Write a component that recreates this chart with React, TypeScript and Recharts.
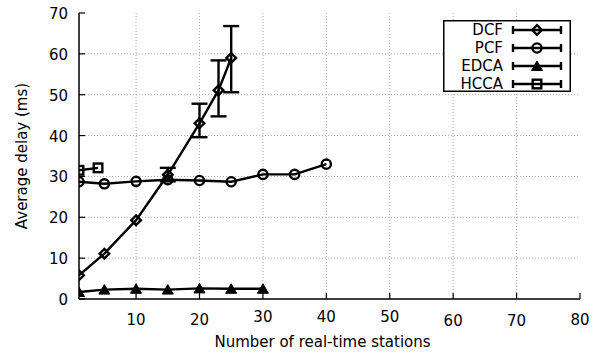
import React from 'react';
import {
  LineChart, Line, XAxis, YAxis, CartesianGrid, ErrorBar,
} from 'recharts';

// ---- data ----
const seriesNames = ['DCF', 'PCF', 'EDCA', 'HCCA'];

const dcfX = [1, 5, 10, 15, 20, 23, 25];
const dcfY = [5.8, 11.1, 19.3, 30.4, 43.0, 51.1, 59.0];
const dcfLow: (number | null)[] = [null, null, null, 28.8, 39.6, 44.7, 50.6];
const dcfHigh: (number | null)[] = [null, null, null, 32.1, 47.8, 58.4, 66.8];

const pcfX = [1, 5, 10, 15, 20, 25, 30, 35, 40];
const pcfY = [28.7, 28.2, 28.8, 29.2, 29.0, 28.7, 30.5, 30.5, 33.0];

const edcaX = [1, 5, 10, 15, 20, 25, 30];
const edcaY = [1.7, 2.3, 2.5, 2.3, 2.6, 2.5, 2.5];

const hccaX = [1, 4];
const hccaY = [31.5, 32.1];

const xTicks = [10, 20, 30, 40, 50, 60, 70, 80];
const yTicks = [0, 10, 20, 30, 40, 50, 60, 70];

const dcfData = dcfX.map((x, i) => ({
  x,
  y: dcfY[i],
  err:
    dcfLow[i] != null && dcfHigh[i] != null
      ? [dcfY[i] - (dcfLow[i] as number), (dcfHigh[i] as number) - dcfY[i]]
      : undefined,
}));
const pcfData = pcfX.map((x, i) => ({ x, y: pcfY[i] }));
const edcaData = edcaX.map((x, i) => ({ x, y: edcaY[i] }));
const hccaData = hccaX.map((x, i) => ({ x, y: hccaY[i] }));

const FONT = 'DejaVu Sans';
const FS = 15;
const SW = 2.4;

type Shape = 'diamond' | 'circle' | 'triangle' | 'square';

function Marker({ shape, cx, cy }: { shape: Shape; cx: number; cy: number }) {
  if (shape === 'diamond') {
    const s = 4.8;
    return (
      <path
        d={`M${cx},${cy - s}L${cx + s},${cy}L${cx},${cy + s}L${cx - s},${cy}Z`}
        fill="none" stroke="#000" strokeWidth={SW}
      />
    );
  }
  if (shape === 'circle') {
    return <circle cx={cx} cy={cy} r={4.6} fill="none" stroke="#000" strokeWidth={SW} />;
  }
  if (shape === 'triangle') {
    const w = 5.5;
    return (
      <path
        d={`M${cx},${cy - 5}L${cx + w},${cy + 4.5}L${cx - w},${cy + 4.5}Z`}
        fill="#000" stroke="#000" strokeWidth={1}
      />
    );
  }
  const h = 4.3;
  return (
    <rect x={cx - h} y={cy - h} width={2 * h} height={2 * h} fill="none" stroke="#000" strokeWidth={SW} />
  );
}

const makeDot = (shape: Shape) => (props: any) => (
  <Marker key={`${shape}-${props.index}`} shape={shape} cx={props.cx} cy={props.cy} />
);

const xLabelDy: Record<number, number> = { 10: 21, 20: 21, 30: 18, 40: 18, 50: 18, 60: 22, 70: 22, 80: 21 };

const BottomTick = (props: any) => {
  const { x, y, payload } = props;
  return (
    <g>
      <line x1={x} x2={x} y1={y} y2={y - 6} stroke="#000" strokeWidth={1.2} />
      <text
        x={x} y={y + (xLabelDy[payload.value] ?? 21)} textAnchor="middle"
        dominantBaseline="central" fontFamily={FONT} fontSize={FS} fill="#000"
      >
        {payload.value}
      </text>
    </g>
  );
};

const TopTick = (props: any) => {
  const { x, y } = props;
  return <line x1={x} x2={x} y1={y} y2={y + 6} stroke="#000" strokeWidth={1.2} />;
};

const LeftTick = (props: any) => {
  const { x, y, payload } = props;
  return (
    <g>
      <line x1={x} x2={x + 6} y1={y} y2={y} stroke="#000" strokeWidth={1.2} />
      <text
        x={x - 11} y={y + 1} textAnchor="end" dominantBaseline="central"
        fontFamily={FONT} fontSize={FS} fill="#000"
      >
        {payload.value}
      </text>
    </g>
  );
};

const RightTick = (props: any) => {
  const { x, y } = props;
  return <line x1={x} x2={x - 6} y1={y} y2={y} stroke="#000" strokeWidth={1.2} />;
};

const legendShapes: Record<string, Shape> = {
  DCF: 'diamond', PCF: 'circle', EDCA: 'triangle', HCCA: 'square',
};

const LegendBox = () => {
  const W = 128;
  const H = 72;
  return (
    <svg width={W} height={H} style={{ display: 'block' }}>
      <rect x={0.75} y={0.75} width={W - 1.5} height={H - 1.5} fill="#fff" stroke="#000" strokeWidth={1.5} />
      {seriesNames.map((name, i) => {
        const cy = 10 + i * 18;
        const shape = legendShapes[name];
        return (
          <g key={name}>
            <text
              x={60} y={cy} textAnchor="end" dominantBaseline="central"
              fontFamily={FONT} fontSize={FS} fill="#000"
            >
              {name}
            </text>
            <line x1={70} x2={118} y1={cy} y2={cy} stroke="#000" strokeWidth={SW} />
            <line x1={70} x2={70} y1={cy - 4} y2={cy + 4} stroke="#000" strokeWidth={SW} />
            <line x1={118} x2={118} y1={cy - 4} y2={cy + 4} stroke="#000" strokeWidth={SW} />
            <Marker shape={shape} cx={94} cy={cy} />
          </g>
        );
      })}
    </svg>
  );
};

export default function App() {
  return (
    <div style={{ position: 'absolute', left: 0, top: 0, width: 604, height: 356, background: '#fff' }}>
      <LineChart
        width={604}
        height={356}
        margin={{ top: 13, right: 24, bottom: 0, left: 0 }}
      >
        <CartesianGrid
          stroke="#a8a8a8" strokeDasharray="1 2" strokeWidth={1}
          verticalValues={[10, 20, 30, 40, 50, 60, 70]}
          horizontalValues={[10, 20, 30, 40, 50, 60]}
        />
        <XAxis
          dataKey="x" type="number" domain={[1, 80]} ticks={xTicks}
          allowDataOverflow height={57}
          axisLine={{ stroke: '#000', strokeWidth: 1.5 }}
          tickLine={false} tickSize={0} tickMargin={0}
          tick={<BottomTick />}
          label={{
            content: (p: any) => {
              const vb = p.viewBox;
              return (
                <text
                  x={vb.x + vb.width / 2 - 7} y={vb.y + 43} textAnchor="middle"
                  dominantBaseline="central" fontFamily={FONT} fontSize={FS} fill="#000"
                >
                  Number of real-time stations
                </text>
              );
            },
          }}
        />
        <XAxis
          xAxisId="top" orientation="top" dataKey="x" type="number" domain={[1, 80]}
          ticks={xTicks} allowDataOverflow height={0}
          axisLine={{ stroke: '#000', strokeWidth: 1.5 }}
          tickLine={false} tickSize={0} tickMargin={0}
          tick={<TopTick />}
        />
        <YAxis
          type="number" domain={[0, 70]} ticks={yTicks} width={79}
          axisLine={{ stroke: '#000', strokeWidth: 1.5 }}
          tickLine={false} tickSize={0} tickMargin={0}
          tick={<LeftTick />}
          label={{
            content: (p: any) => {
              const vb = p.viewBox;
              const cx = 22;
              const cy = vb.y + vb.height / 2;
              return (
                <text
                  x={cx} y={cy} transform={`rotate(-90, ${cx}, ${cy})`} textAnchor="middle"
                  dominantBaseline="central" fontFamily={FONT} fontSize={FS} fill="#000"
                >
                  Average delay (ms)
                </text>
              );
            },
          }}
        />
        <YAxis
          yAxisId="right" orientation="right" type="number" domain={[0, 70]}
          ticks={yTicks} width={0}
          axisLine={{ stroke: '#000', strokeWidth: 1.5 }}
          tickLine={false} tickSize={0} tickMargin={0}
          tick={<RightTick />}
        />
        <Line
          data={dcfData} dataKey="y" name="DCF" stroke="#000" strokeWidth={SW}
          dot={makeDot('diamond')} activeDot={false} isAnimationActive={false} type="linear"
        >
          <ErrorBar dataKey="err" width={8} strokeWidth={SW} stroke="#000" direction="y" isAnimationActive={false} />
        </Line>
        <Line
          data={pcfData} dataKey="y" name="PCF" stroke="#000" strokeWidth={SW}
          dot={makeDot('circle')} activeDot={false} isAnimationActive={false} type="linear"
        />
        <Line
          data={edcaData} dataKey="y" name="EDCA" stroke="#000" strokeWidth={SW}
          dot={makeDot('triangle')} activeDot={false} isAnimationActive={false} type="linear"
        />
        <Line
          data={hccaData} dataKey="y" name="HCCA" stroke="#000" strokeWidth={SW}
          dot={makeDot('square')} activeDot={false} isAnimationActive={false} type="linear"
        />
      </LineChart>
      <div style={{ position: 'absolute', left: 443, top: 20 }}>
        <LegendBox />
      </div>
    </div>
  );
}
